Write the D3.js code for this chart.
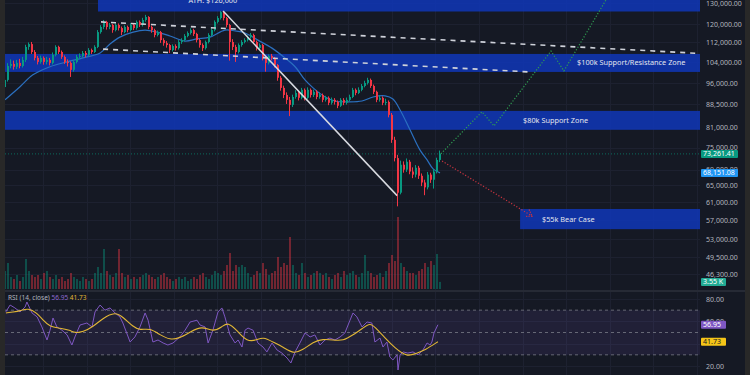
<!DOCTYPE html>
<html>
<head>
<meta charset="utf-8">
<script src="https://cdn.jsdelivr.net/npm/d3@7"></script>
<style>
  html, body { margin: 0; padding: 0; background: #151924; }
  svg { display: block; font-family: "Noto Sans", sans-serif; }
</style>
</head>
<body>
<div id="chart"></div>
<script>
// BTC daily-ish candles, prices in thousands USD
const firstOpen = 94.5;
const closes = [
  97.1,102.4,103.2,102.1,103.6,102.4,104.8,110.1,111.3,108.0,
  105.6,104.0,105.6,104.0,104.8,103.6,106.8,110.1,108.0,106.0,
  104.0,103.6,100.9,104.0,106.0,106.4,107.6,106.8,108.8,108.0,
  110.1,116.5,118.8,121.1,118.8,119.7,117.4,119.7,118.3,116.5,
  118.8,117.4,119.7,118.3,121.1,119.7,122.0,123.4,118.8,117.4,
  115.2,116.5,113.0,111.7,110.9,108.8,110.5,109.6,112.2,113.0,
  114.8,116.1,117.4,115.7,113.0,110.9,109.6,112.2,115.2,117.4,
  121.1,122.9,125.7,122.9,119.7,112.2,110.1,108.0,110.9,112.2,
  113.0,114.3,115.2,112.2,109.6,110.9,105.6,103.6,106.4,105.6,
  102.8,97.9,94.2,91.7,90.0,88.3,91.0,92.4,90.7,93.5,
  90.7,93.5,91.7,92.8,91.0,91.7,90.0,90.7,89.0,90.0,
  89.3,88.0,90.0,89.0,90.0,91.0,93.5,92.4,93.5,94.9,
  96.0,97.1,94.9,92.8,90.0,90.7,89.0,89.3,85.0,77.3,
  72.1,63.2,70.3,69.0,71.1,68.5,67.7,69.5,67.4,65.7,
  64.5,67.7,66.4,68.5,71.6,73.26
];
const highs = [
  98.0,103.5,105.0,104.5,104.8,105.2,106.0,111.0,112.0,112.2,
  108.8,106.4,106.5,106.2,106.0,105.6,107.8,110.8,110.6,108.6,
  106.6,105.0,104.2,104.6,106.8,107.4,108.4,108.4,109.6,109.4,
  110.8,117.4,119.6,122.0,121.6,120.6,120.2,120.4,120.4,119.0,
  119.6,119.4,120.6,120.4,121.8,121.8,123.0,124.4,123.8,119.4,
  118.0,117.2,117.0,113.8,112.6,111.4,111.2,111.2,113.0,113.8,
  115.6,116.8,118.2,118.0,116.2,113.6,111.6,112.8,116.0,118.2,
  121.8,123.8,126.2,126.0,123.4,120.2,113.4,111.0,111.6,113.0,
  113.8,115.0,116.1,115.8,112.8,111.6,111.4,106.2,107.0,107.2,
  106.0,103.2,98.6,95.0,92.6,91.0,91.8,93.4,93.0,94.2,
  94.0,94.4,94.0,93.6,93.4,92.6,92.2,91.4,91.2,90.8,
  90.6,89.8,90.6,90.6,90.8,91.8,94.2,94.0,94.4,95.6,
  96.8,97.9,97.6,95.4,93.2,91.6,91.2,90.4,89.8,85.6,
  78.2,73.0,71.4,71.2,72.0,71.6,69.6,70.2,70.0,68.0,
  66.4,68.4,68.2,69.2,72.2,74.2
];
const lows = [
  93.8,96.5,101.5,101.0,101.2,101.5,101.8,104.0,108.9,107.2,
  104.6,103.0,103.3,102.9,103.0,102.6,103.0,106.2,107.2,105.2,
  103.2,102.2,98.2,100.2,103.4,105.2,105.8,105.8,106.2,107.2,
  107.6,109.6,115.8,117.8,117.6,117.8,116.2,116.8,117.2,115.2,
  116.0,116.4,116.8,117.4,117.6,118.8,119.0,121.2,117.8,116.2,
  114.2,114.6,111.8,110.6,109.8,107.6,108.2,108.6,109.0,111.4,
  112.4,114.2,115.4,114.8,112.0,109.8,108.4,109.0,111.6,114.6,
  116.8,120.4,122.2,121.8,118.6,104.5,108.8,104.0,107.4,110.2,
  111.6,112.4,113.6,111.4,108.6,108.8,104.6,100.2,103.0,104.6,
  101.8,96.8,93.2,90.6,88.6,84.6,87.6,90.4,89.8,90.2,
  89.8,90.2,90.8,91.0,90.2,90.4,89.2,89.4,88.2,88.4,
  88.4,87.2,87.6,88.2,88.4,89.6,90.6,91.6,92.0,93.0,
  94.4,95.4,94.2,92.0,89.2,89.4,88.2,88.2,84.2,76.4,
  71.2,60.0,62.8,68.2,68.4,67.8,66.8,67.0,66.6,64.8,
  62.6,64.0,65.6,64.2,68.0,71.0
];
// volume in thousands of BTC
const volumes = [
  9,13,6,5,7,4,6,15,9,7,
  6,7,5,8,9,6,5,7,5,6,
  4,5,8,6,5,4,6,5,4,5,
  8,11,8,20,9,7,6,8,20,8,
  6,7,5,6,5,6,7,8,7,6,
  5,6,7,8,6,5,4,5,6,5,
  6,4,5,6,5,7,8,6,5,7,
  9,8,7,9,12,18,9,12,11,12,
  11,8,6,7,9,8,13,10,7,8,
  9,16,11,13,12,26,12,8,7,13,
  8,6,7,8,9,8,7,8,6,5,
  7,8,6,9,7,8,9,7,6,8,
  17,9,8,6,7,8,6,9,13,17,
  14,36,13,11,9,8,8,7,9,10,
  13,11,14,12,17.5,3.55
];

// moving average on price (bar index, value)
const maDays = [0,5,9.3,15,20.7,26,31.7,35,38.3,42.7,46.7,50.7,55,60,64,68.3,73.3,76.7,80,84.3,89,93.3,96.7,100,102.7,106.7,110,115,119,122.7,126.7,129.3,131.7,135,138.3,140.7,142.7,145];
const maValues = [90.0,94.6,99.0,102.1,104.0,105.6,107.6,111.3,114.3,116.5,117.4,116.5,114.8,112.6,113.5,114.3,117.4,117.0,116.1,113.0,109.6,105.6,102.1,97.1,94.2,91.0,89.6,89.3,89.6,91.0,91.4,90.3,86.6,80.3,74.4,71.6,69.2,68.15];
const maLast = 68151.08;
const lastPrice = 73261.41;

// RSI (14, close) and its moving average
const rsiDays = [0.3,1.7,3.3,5,6.7,7.3,9,10.7,12.3,14,15,16,17.3,19,20.7,22.3,23.3,25,27.3,29,30,31.7,33.3,35,36.7,38.3,39.3,41.7,43.3,45,46.7,47.7,49.3,51,52.7,54.3,56,58.3,60,61.7,64,65,66.7,67.7,69.3,71,72.3,73.3,75,76.7,77.7,79,80,81,82.7,84.3,86,87.3,89,90.7,92.3,94,95.3,96.7,98.3,100,101.7,103.3,105,106.7,108.3,110,111.7,113.3,115,116,117.3,119,120.7,122.3,123.3,125,126,127.3,128.3,129.3,130.7,131,131.7,132.7,134.3,136,137.7,139.3,140.7,141.7,142.3,143,144.3];
const rsiValues = [68.6,74.6,72,68.4,72.8,77.3,67.5,64,55,43.3,52,63,55,52,47.8,38.8,46,56.7,58.5,55,68.4,74.6,70,72,67.5,64,58.5,41.5,46,55,67.5,61,41.5,43.3,40.6,38.8,40.6,46,52,59.4,61,56.7,55,40.6,52,68.4,72,64,47.8,40.6,43.3,37,52,54,52,40.6,37,32.6,40.6,34.3,31.6,27.2,22.7,32.6,40.6,49.6,46,47.8,38.8,43.3,45,43.3,46,49.6,61,67.5,64,55,59.4,58.5,41.5,45,37,41.5,28,25.4,30,16.4,30,32.6,31.6,32.6,30,34.3,40.6,38.8,41.5,49.6,56.95];
const rsiMaDays = [0.3,2.7,5,7.7,10.7,12.7,15,18.3,21.7,23.3,26,29.3,32.7,36.7,39.3,42.7,45,48.3,51.7,55,58.3,61.7,65.7,69.3,72.3,74.3,77.3,80.7,84,86,89.3,92.7,96,99.3,102.7,106,109.3,112.7,116,119.3,121.7,123.3,126.7,130,134,137.3,140,144.3];
const rsiMaValues = [67.5,68.4,69.3,72,67.5,61,55,54,52,49.6,50.5,55,63,68.4,64,55,52,54,47.8,43.3,45,50.5,56,50.5,55,59.4,52,41.5,43.3,46,41.5,37,30.8,34.3,41.5,44.2,43.3,42.4,47.8,54,58.5,55,45,36,28,31.6,34.3,41.73];

// drawn zones (thousands USD)
const zoneNames = ["ATH: $126,000", "$100k Support/Resistance Zone", "$80k Support Zone", "$55k Bear Case"];
const zoneTops = [135, 107.2, 86.3, 59.4];
const zoneBottoms = [126.0, 100.1, 80.3, 55.0];
const zoneStartDays = [31, 0, 0, 171.7];

// trend lines and projections (bar index, price)
const upperTrendDays = [32, 231.7], upperTrendPrices = [121.1, 107.4];
const lowerTrendDays = [32.7, 174.7], lowerTrendPrices = [109.2, 100.1];
const crashDays = [72.7, 130.7], crashPrices = [126.2, 62.5];
const bullDays = [145.3, 159, 163, 182, 186.3, 202.3], bullPrices = [73.3, 86.0, 81.5, 108.4, 100.5, 136.8];
const bearDays = [145.7, 175.7], bearPrices = [71.3, 57.8];

const priceTicks = [130000,120000,112000,104000,96000,88500,81000,75000,69000,65000,61000,57000,53000,49500,46300];
const rsiTicks = [80, 60, 20];
const rsiGrid = [80, 60, 40, 20];
const rsiLevels = [70, 50, 30];

const width = 750;
const height = 375;
const plotL = 5, plotR = 700;

const svg = d3.select("#chart").append("svg")
    .attr("width", width)
    .attr("height", height);

svg.append("rect").attr("width", width).attr("height", height).attr("fill", "#151924");

const x = d3.scaleLinear().domain([0, closes.length - 1]).range([5, 440]);
const y = d3.scaleLog().domain([130, 46.3]).range([3.3, 274.4]);
const yVol = d3.scaleLinear().domain([0, 40]).range([289, 209]);
const yRsi = d3.scaleLinear().domain([20, 80]).range([366, 299]);

const defs = svg.append("defs");
defs.append("clipPath").attr("id", "clipPrice")
    .append("rect").attr("x", plotL).attr("y", 0).attr("width", plotR - plotL).attr("height", 289);
defs.append("clipPath").attr("id", "clipRsi")
    .append("rect").attr("x", plotL).attr("y", 292).attr("width", plotR - plotL).attr("height", 83);
defs.append("marker")
    .attr("id", "arrowRed")
    .attr("viewBox", "-7 -5 8 10")
    .attr("refX", 0).attr("refY", 0)
    .attr("markerWidth", 8).attr("markerHeight", 10)
    .attr("markerUnits", "userSpaceOnUse")
    .attr("orient", "auto")
    .append("path")
    .attr("d", "M-6,-4L0,0L-6,4")
    .attr("fill", "none")
    .attr("stroke", "#c8343f")
    .attr("stroke-width", 1.2)
    .attr("stroke-dasharray", "1.2,1.2");

// grid
const gridDays = d3.range(12.7, 232, 14.53);
const grid = svg.append("g").attr("stroke", "#1d2130").attr("stroke-width", 1);
grid.selectAll(".vgrid").data(gridDays).enter().append("line")
    .attr("x1", d => Math.round(x(d)) + 0.5).attr("x2", d => Math.round(x(d)) + 0.5)
    .attr("y1", 0).attr("y2", height);
grid.selectAll(".hgrid").data(priceTicks).enter().append("line")
    .attr("x1", plotL).attr("x2", plotR)
    .attr("y1", d => Math.round(y(d / 1000)) + 0.5).attr("y2", d => Math.round(y(d / 1000)) + 0.5);
grid.selectAll(".rgrid").data(rsiGrid).enter().append("line")
    .attr("x1", plotL).attr("x2", plotR)
    .attr("y1", d => Math.round(yRsi(d)) + 0.5).attr("y2", d => Math.round(yRsi(d)) + 0.5);

const price = svg.append("g").attr("clip-path", "url(#clipPrice)");

// zones
const zones = zoneNames.map((name, i) => ({name, top: zoneTops[i], bottom: zoneBottoms[i], start: zoneStartDays[i]}));
price.selectAll(".zone").data(zones).enter().append("rect")
    .attr("x", d => x(d.start))
    .attr("y", d => y(d.top))
    .attr("width", d => plotR - x(d.start))
    .attr("height", d => y(d.bottom) - y(d.top))
    .attr("fill", "#1036b4")
    .attr("opacity", 0.88);

// volume
const bars = closes.map((c, i) => ({
    i, c, o: i ? closes[i - 1] : firstOpen, h: highs[i], l: lows[i], v: volumes[i]
}));
price.selectAll(".vol").data(bars).enter().append("rect")
    .attr("x", d => x(d.i) - 1)
    .attr("width", 2)
    .attr("y", d => yVol(d.v))
    .attr("height", d => yVol(0) - yVol(d.v))
    .attr("fill", d => d.c >= d.o ? "#089981" : "#f23645")
    .attr("opacity", 0.42);

// last price line
price.append("line")
    .attr("x1", plotL).attr("x2", plotR)
    .attr("y1", y(lastPrice / 1000)).attr("y2", y(lastPrice / 1000))
    .attr("stroke", "#0b6b5c").attr("stroke-width", 1).attr("stroke-dasharray", "1,2");

// moving average
price.append("path")
    .datum(maDays.map((d, i) => [d, maValues[i]]))
    .attr("fill", "none")
    .attr("stroke", "#2b70c0")
    .attr("stroke-width", 1.2)
    .attr("d", d3.line().x(d => x(d[0])).y(d => y(d[1])).curve(d3.curveCatmullRom));

// candles
const candle = price.selectAll(".candle").data(bars).enter().append("g")
    .attr("fill", d => d.c >= d.o ? "#089981" : "#f23645")
    .attr("stroke", d => d.c >= d.o ? "#089981" : "#f23645");
candle.append("line")
    .attr("x1", d => x(d.i) - 0.5).attr("x2", d => x(d.i) - 0.5)
    .attr("y1", d => y(d.h)).attr("y2", d => y(d.l))
    .attr("stroke-width", 1);
candle.append("rect")
    .attr("stroke", "none")
    .attr("x", d => x(d.i) - 1)
    .attr("width", 2)
    .attr("y", d => y(Math.max(d.o, d.c)))
    .attr("height", d => Math.max(1, Math.abs(y(d.o) - y(d.c))));

// trend lines
const lineGen = d3.line().x(d => x(d[0])).y(d => y(d[1]));
const pairs = (days, vals) => days.map((d, i) => [d, vals[i]]);

price.append("path").datum(pairs(upperTrendDays, upperTrendPrices))
    .attr("d", lineGen).attr("fill", "none")
    .attr("stroke", "#cfd2da").attr("stroke-width", 1.6).attr("stroke-dasharray", "5,5");
price.append("path").datum(pairs(lowerTrendDays, lowerTrendPrices))
    .attr("d", lineGen).attr("fill", "none")
    .attr("stroke", "#cfd2da").attr("stroke-width", 1.6).attr("stroke-dasharray", "5,5");
price.append("path").datum(pairs(crashDays, crashPrices))
    .attr("d", lineGen).attr("fill", "none")
    .attr("stroke", "#d8dae0").attr("stroke-width", 1.5);
price.append("path").datum(pairs(bullDays, bullPrices))
    .attr("d", lineGen).attr("fill", "none")
    .attr("stroke", "#2f9e52").attr("stroke-width", 1.2).attr("stroke-dasharray", "1.2,1.8");
price.append("path").datum(pairs(bearDays, bearPrices))
    .attr("d", lineGen).attr("fill", "none")
    .attr("stroke", "#c8343f").attr("stroke-width", 1.2).attr("stroke-dasharray", "1.2,1.8")
    .attr("marker-end", "url(#arrowRed)");

// zone labels
const labelDays = [69.3, 190.7, 172.7, 179];
price.selectAll(".zlabel").data(zones).enter().append("text")
    .attr("x", (d, i) => x(labelDays[i]))
    .attr("y", (d, i) => i === 0 ? 3 : (y(d.top) + y(d.bottom)) / 2)
    .attr("dy", (d, i) => i === 0 ? 0 : "0.35em")
    .attr("text-anchor", (d, i) => i === 0 ? "middle" : "start")
    .attr("fill", "#e3e6ee")
    .attr("font-size", 7.3)
    .text(d => d.name);

// price axis
const priceAxis = svg.append("g")
    .attr("transform", `translate(${plotR},0)`)
    .call(d3.axisRight(y).tickValues(priceTicks.map(d => d / 1000))
        .tickFormat(d => d3.format(",.2f")(d * 1000))
        .tickSize(0).tickPadding(6));
priceAxis.select(".domain").remove();
priceAxis.selectAll("text").attr("fill", "#b2b5be").attr("font-size", 7).attr("font-family", "Noto Sans");

function tag(yPos, label, fill, color, w) {
    svg.append("rect").attr("x", 701).attr("y", yPos - 4).attr("width", w).attr("height", 8)
        .attr("fill", fill).attr("rx", 1);
    svg.append("text").attr("x", 703).attr("y", yPos).attr("dy", "0.35em")
        .attr("fill", color).attr("font-size", 7).text(label);
}
tag(y(lastPrice / 1000), d3.format(",.2f")(lastPrice), "#089981", "#ffffff", 37);
tag(y(maLast / 1000), d3.format(",.2f")(maLast), "#2196f3", "#ffffff", 37);
tag(yVol(volumes[volumes.length - 1]), volumes[volumes.length - 1] + " K", "#22ab94", "#ffffff", 25);

// pane separator
svg.append("line").attr("x1", 0).attr("x2", width).attr("y1", 291).attr("y2", 291)
    .attr("stroke", "#262a35").attr("stroke-width", 2);

// RSI pane
const rsiG = svg.append("g").attr("clip-path", "url(#clipRsi)");
rsiG.append("rect")
    .attr("x", plotL).attr("width", plotR - plotL)
    .attr("y", yRsi(70)).attr("height", yRsi(30) - yRsi(70))
    .attr("fill", "#7e57c2").attr("opacity", 0.12);
rsiG.selectAll(".lvl").data(rsiLevels).enter().append("line")
    .attr("x1", plotL).attr("x2", plotR)
    .attr("y1", d => yRsi(d)).attr("y2", d => yRsi(d))
    .attr("stroke", "#787b86").attr("stroke-width", 0.8).attr("stroke-dasharray", "3,3");
rsiG.append("path").datum(pairs(rsiDays, rsiValues))
    .attr("fill", "none").attr("stroke", "#7e57c2").attr("stroke-width", 1)
    .attr("d", d3.line().x(d => x(d[0])).y(d => yRsi(d[1])));
rsiG.append("path").datum(pairs(rsiMaDays, rsiMaValues))
    .attr("fill", "none").attr("stroke", "#e2b735").attr("stroke-width", 1.1)
    .attr("d", d3.line().x(d => x(d[0])).y(d => yRsi(d[1])).curve(d3.curveBasis));

const rsiAxis = svg.append("g")
    .attr("transform", `translate(${plotR},0)`)
    .call(d3.axisRight(yRsi).tickValues(rsiTicks).tickFormat(d3.format(".2f")).tickSize(0).tickPadding(6));
rsiAxis.select(".domain").remove();
rsiAxis.selectAll("text").attr("fill", "#b2b5be").attr("font-size", 7).attr("font-family", "Noto Sans");

tag(yRsi(rsiValues[rsiValues.length - 1]), rsiValues[rsiValues.length - 1].toFixed(2), "#7e57c2", "#ffffff", 25);
tag(yRsi(rsiMaValues[rsiMaValues.length - 1]), rsiMaValues[rsiMaValues.length - 1].toFixed(2), "#f5c518", "#131722", 25);

// RSI legend
const legend = svg.append("text").attr("x", 8).attr("y", 297.5).attr("dy", "0.35em").attr("font-size", 6.5);
legend.append("tspan").attr("fill", "#b2b5be").text("RSI (14, close) ");
legend.append("tspan").attr("fill", "#8e6ad0").text(rsiValues[rsiValues.length - 1].toFixed(2) + " ");
legend.append("tspan").attr("fill", "#e2b735").text(rsiMaValues[rsiMaValues.length - 1].toFixed(2));

// window frame strips
svg.append("rect").attr("x", 0).attr("y", 0).attr("width", 5).attr("height", height).attr("fill", "#282828");
svg.append("rect").attr("x", 745).attr("y", 0).attr("width", 5).attr("height", height).attr("fill", "#282828");
</script>
</body>
</html>
